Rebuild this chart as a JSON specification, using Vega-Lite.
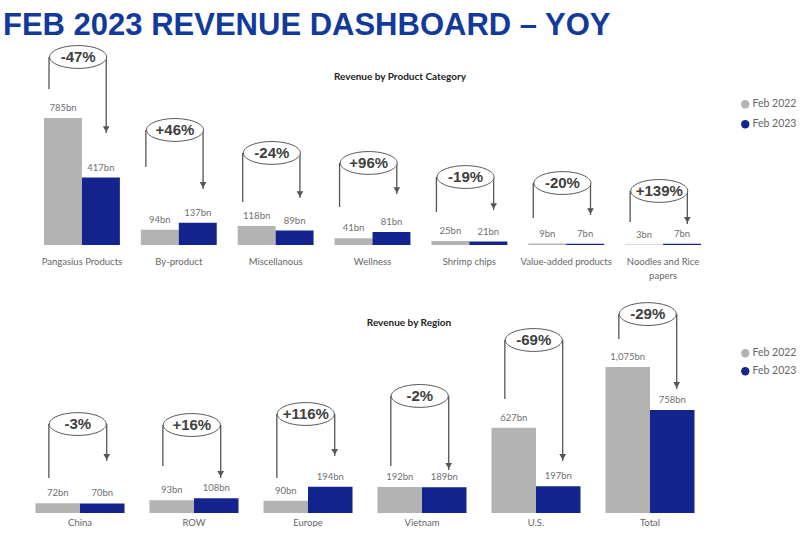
{
  "$schema": "https://vega.github.io/schema/vega-lite/v6.json",
  "background": "white",
  "padding": {"left": 3, "top": 10, "right": 0, "bottom": 0},
  "title": {"text": "FEB 2023 REVENUE DASHBOARD – YOY", "anchor": "start", "frame": "group", "font": "Liberation Sans", "fontSize": 31, "fontWeight": "bold", "color": "#123a9c", "offset": 0, "dy": 2},
  "config": {
    "view": {"stroke": null},
    "axis": {"title": null, "domain": false, "ticks": false, "grid": false, "labelAngle": 0, "labelFont": "Lato", "labelFontSize": 9.5, "labelColor": "#666666", "labelLineHeight": 14},
    "legend": {"title": null, "orient": "none", "symbolType": "circle", "symbolSize": 70, "labelFont": "Lato", "labelFontSize": 10.5, "labelColor": "#666666", "symbolStrokeWidth": 0, "labelOffset": 2}
  },
  "spacing": 19,
  "resolve": {"legend": {"color": "independent"}, "scale": {"xOffset": "independent", "x": "independent", "y": "independent"}},
  "vconcat": [
    {
      "width": 700,
      "height": 205,
      "title": {"text": "Revenue by Product Category", "font": "Lato", "fontSize": 10, "fontWeight": "bold", "color": "#222222", "anchor": "middle", "dx": 47, "dy": 46},
      "layer": [
        {
          "data": {"values": [
            {"cat": "Pangasius Products", "year": "Feb 2022", "value": 785, "label": "785bn"},
            {"cat": "Pangasius Products", "year": "Feb 2023", "value": 417, "label": "417bn"},
            {"cat": "By-product", "year": "Feb 2022", "value": 94, "label": "94bn"},
            {"cat": "By-product", "year": "Feb 2023", "value": 137, "label": "137bn"},
            {"cat": "Miscellanous", "year": "Feb 2022", "value": 118, "label": "118bn"},
            {"cat": "Miscellanous", "year": "Feb 2023", "value": 89, "label": "89bn"},
            {"cat": "Wellness", "year": "Feb 2022", "value": 41, "label": "41bn"},
            {"cat": "Wellness", "year": "Feb 2023", "value": 81, "label": "81bn"},
            {"cat": "Shrimp chips", "year": "Feb 2022", "value": 25, "label": "25bn"},
            {"cat": "Shrimp chips", "year": "Feb 2023", "value": 21, "label": "21bn"},
            {"cat": "Value-added products", "year": "Feb 2022", "value": 9, "label": "9bn"},
            {"cat": "Value-added products", "year": "Feb 2023", "value": 7, "label": "7bn"},
            {"cat": "Noodles and Rice papers", "year": "Feb 2022", "value": 3, "label": "3bn"},
            {"cat": "Noodles and Rice papers", "year": "Feb 2023", "value": 7, "label": "7bn"}
          ]},
          "layer": [
            {
              "mark": {"type": "bar"},
              "encoding": {
                "x": {"field": "cat", "type": "nominal", "scale": {"domain": ["Pangasius Products", "By-product", "Miscellanous", "Wellness", "Shrimp chips", "Value-added products", "Noodles and Rice papers"], "range": [41, 698], "paddingInner": 0.2165, "paddingOuter": 0}, "axis": {"labelPadding": 11, "labelExpr": "datum.label == 'Noodles and Rice papers' ? ['Noodles and Rice', 'papers'] : datum.label"}},
                "xOffset": {"field": "year", "type": "nominal", "scale": {"paddingInner": 0}},
                "y": {"field": "value", "type": "quantitative", "scale": {"domain": [0, 1267], "nice": false}, "axis": null},
                "color": {"field": "year", "type": "nominal", "scale": {"domain": ["Feb 2022", "Feb 2023"], "range": ["#b3b3b3", "#14248f"]}, "legend": {"legendX": 737, "legendY": 59, "rowPadding": 9}}
              }
            },
            {
              "mark": {"type": "text", "font": "Lato", "fontSize": 9.5, "color": "#707070", "baseline": "middle", "dy": -10},
              "encoding": {
                "x": {"field": "cat", "type": "nominal"},
                "xOffset": {"field": "year", "type": "nominal"},
                "y": {"field": "value", "type": "quantitative"},
                "text": {"field": "label"}
              }
            }
          ]
        },
        {
          "data": {"values": [
            {"cat": "Pangasius Products", "pct": "-47%", "top": 1162, "left": 964, "arrow": 692},
            {"cat": "By-product", "pct": "+46%", "top": 711, "left": 482, "arrow": 346},
            {"cat": "Miscellanous", "pct": "-24%", "top": 569, "left": 266, "arrow": 290},
            {"cat": "Wellness", "pct": "+96%", "top": 507, "left": 235, "arrow": 315},
            {"cat": "Shrimp chips", "pct": "-19%", "top": 420, "left": 204, "arrow": 216},
            {"cat": "Value-added products", "pct": "-20%", "top": 383, "left": 167, "arrow": 185},
            {"cat": "Noodles and Rice papers", "pct": "+139%", "top": 334, "left": 142, "arrow": 130}
          ]},
          "layer": [
            {
              "mark": {"type": "rule", "color": "#555555", "strokeWidth": 1.3},
              "encoding": {
                "x": {"field": "cat", "type": "nominal", "bandPosition": 0.066},
                "y": {"field": "top", "type": "quantitative"},
                "y2": {"field": "left"}
              }
            },
            {
              "mark": {"type": "rule", "color": "#555555", "strokeWidth": 1.3},
              "encoding": {
                "x": {"field": "cat", "type": "nominal", "bandPosition": 0.82},
                "y": {"field": "top", "type": "quantitative"},
                "y2": {"field": "arrow"}
              }
            },
            {
              "mark": {"type": "point", "shape": "triangle-down", "filled": true, "color": "#555555", "size": 45, "opacity": 1, "yOffset": -4},
              "encoding": {
                "x": {"field": "cat", "type": "nominal", "bandPosition": 0.82},
                "y": {"field": "arrow", "type": "quantitative"}
              }
            },
            {
              "mark": {"type": "point", "shape": "M-1,0A1,0.4,0,1,1,1,0A1,0.4,0,1,1,-1,0Z", "size": 3249, "filled": false, "fill": "white", "fillOpacity": 1, "stroke": "#555555", "strokeWidth": 1, "opacity": 1},
              "encoding": {
                "x": {"field": "cat", "type": "nominal", "bandPosition": 0.45},
                "y": {"field": "top", "type": "quantitative"}
              }
            },
            {
              "mark": {"type": "text", "font": "Liberation Sans", "fontSize": 15, "fontWeight": "bold", "color": "#404040", "baseline": "middle"},
              "encoding": {
                "x": {"field": "cat", "type": "nominal", "bandPosition": 0.45},
                "y": {"field": "top", "type": "quantitative"},
                "text": {"field": "pct"}
              }
            }
          ]
        }
      ]
    },
    {
      "width": 700,
      "height": 214,
      "title": {"text": "Revenue by Region", "font": "Lato", "fontSize": 10, "fontWeight": "bold", "color": "#222222", "anchor": "middle", "dx": 56, "dy": 33},
      "layer": [
        {
          "data": {"values": [
            {"cat": "China", "year": "Feb 2022", "value": 72, "label": "72bn"},
            {"cat": "China", "year": "Feb 2023", "value": 70, "label": "70bn"},
            {"cat": "ROW", "year": "Feb 2022", "value": 93, "label": "93bn"},
            {"cat": "ROW", "year": "Feb 2023", "value": 108, "label": "108bn"},
            {"cat": "Europe", "year": "Feb 2022", "value": 90, "label": "90bn"},
            {"cat": "Europe", "year": "Feb 2023", "value": 194, "label": "194bn"},
            {"cat": "Vietnam", "year": "Feb 2022", "value": 192, "label": "192bn"},
            {"cat": "Vietnam", "year": "Feb 2023", "value": 189, "label": "189bn"},
            {"cat": "U.S.", "year": "Feb 2022", "value": 627, "label": "627bn"},
            {"cat": "U.S.", "year": "Feb 2023", "value": 197, "label": "197bn"},
            {"cat": "Total", "year": "Feb 2022", "value": 1075, "label": "1,075bn"},
            {"cat": "Total", "year": "Feb 2023", "value": 758, "label": "758bn"}
          ]},
          "layer": [
            {
              "mark": {"type": "bar"},
              "encoding": {
                "x": {"field": "cat", "type": "nominal", "scale": {"domain": ["China", "ROW", "Europe", "Vietnam", "U.S.", "Total"], "range": [32.5, 691.5], "paddingInner": 0.219, "paddingOuter": 0}, "axis": {"labelPadding": 4}},
                "xOffset": {"field": "year", "type": "nominal", "scale": {"paddingInner": 0}},
                "y": {"field": "value", "type": "quantitative", "scale": {"domain": [0, 1576], "nice": false}, "axis": null},
                "color": {"field": "year", "type": "nominal", "scale": {"domain": ["Feb 2022", "Feb 2023"], "range": ["#b3b3b3", "#14248f"]}, "legend": {"legendX": 737, "legendY": 49, "rowPadding": 7}}
              }
            },
            {
              "mark": {"type": "text", "font": "Lato", "fontSize": 9.5, "color": "#707070", "baseline": "middle", "dy": -10},
              "encoding": {
                "x": {"field": "cat", "type": "nominal"},
                "xOffset": {"field": "year", "type": "nominal"},
                "y": {"field": "value", "type": "quantitative"},
                "text": {"field": "label"}
              }
            }
          ]
        },
        {
          "data": {"values": [
            {"cat": "China", "pct": "-3%", "top": 655, "left": 258, "arrow": 383},
            {"cat": "ROW", "pct": "+16%", "top": 648, "left": 346, "arrow": 258},
            {"cat": "Europe", "pct": "+116%", "top": 729, "left": 258, "arrow": 420},
            {"cat": "Vietnam", "pct": "-2%", "top": 862, "left": 346, "arrow": 317},
            {"cat": "U.S.", "pct": "-69%", "top": 1274, "left": 839, "arrow": 383},
            {"cat": "Total", "pct": "-29%", "top": 1465, "left": 1281, "arrow": 913}
          ]},
          "layer": [
            {
              "mark": {"type": "rule", "color": "#555555", "strokeWidth": 1.3},
              "encoding": {
                "x": {"field": "cat", "type": "nominal", "bandPosition": 0.15},
                "y": {"field": "top", "type": "quantitative"},
                "y2": {"field": "left"}
              }
            },
            {
              "mark": {"type": "rule", "color": "#555555", "strokeWidth": 1.3},
              "encoding": {
                "x": {"field": "cat", "type": "nominal", "bandPosition": 0.8},
                "y": {"field": "top", "type": "quantitative"},
                "y2": {"field": "arrow"}
              }
            },
            {
              "mark": {"type": "point", "shape": "triangle-down", "filled": true, "color": "#555555", "size": 45, "opacity": 1, "yOffset": -4},
              "encoding": {
                "x": {"field": "cat", "type": "nominal", "bandPosition": 0.8},
                "y": {"field": "arrow", "type": "quantitative"}
              }
            },
            {
              "mark": {"type": "point", "shape": "M-1,0A1,0.4,0,1,1,1,0A1,0.4,0,1,1,-1,0Z", "size": 3249, "filled": false, "fill": "white", "fillOpacity": 1, "stroke": "#555555", "strokeWidth": 1, "opacity": 1},
              "encoding": {
                "x": {"field": "cat", "type": "nominal", "bandPosition": 0.475},
                "y": {"field": "top", "type": "quantitative"}
              }
            },
            {
              "mark": {"type": "text", "font": "Liberation Sans", "fontSize": 15, "fontWeight": "bold", "color": "#404040", "baseline": "middle"},
              "encoding": {
                "x": {"field": "cat", "type": "nominal", "bandPosition": 0.475},
                "y": {"field": "top", "type": "quantitative"},
                "text": {"field": "pct"}
              }
            }
          ]
        }
      ]
    }
  ]
}
